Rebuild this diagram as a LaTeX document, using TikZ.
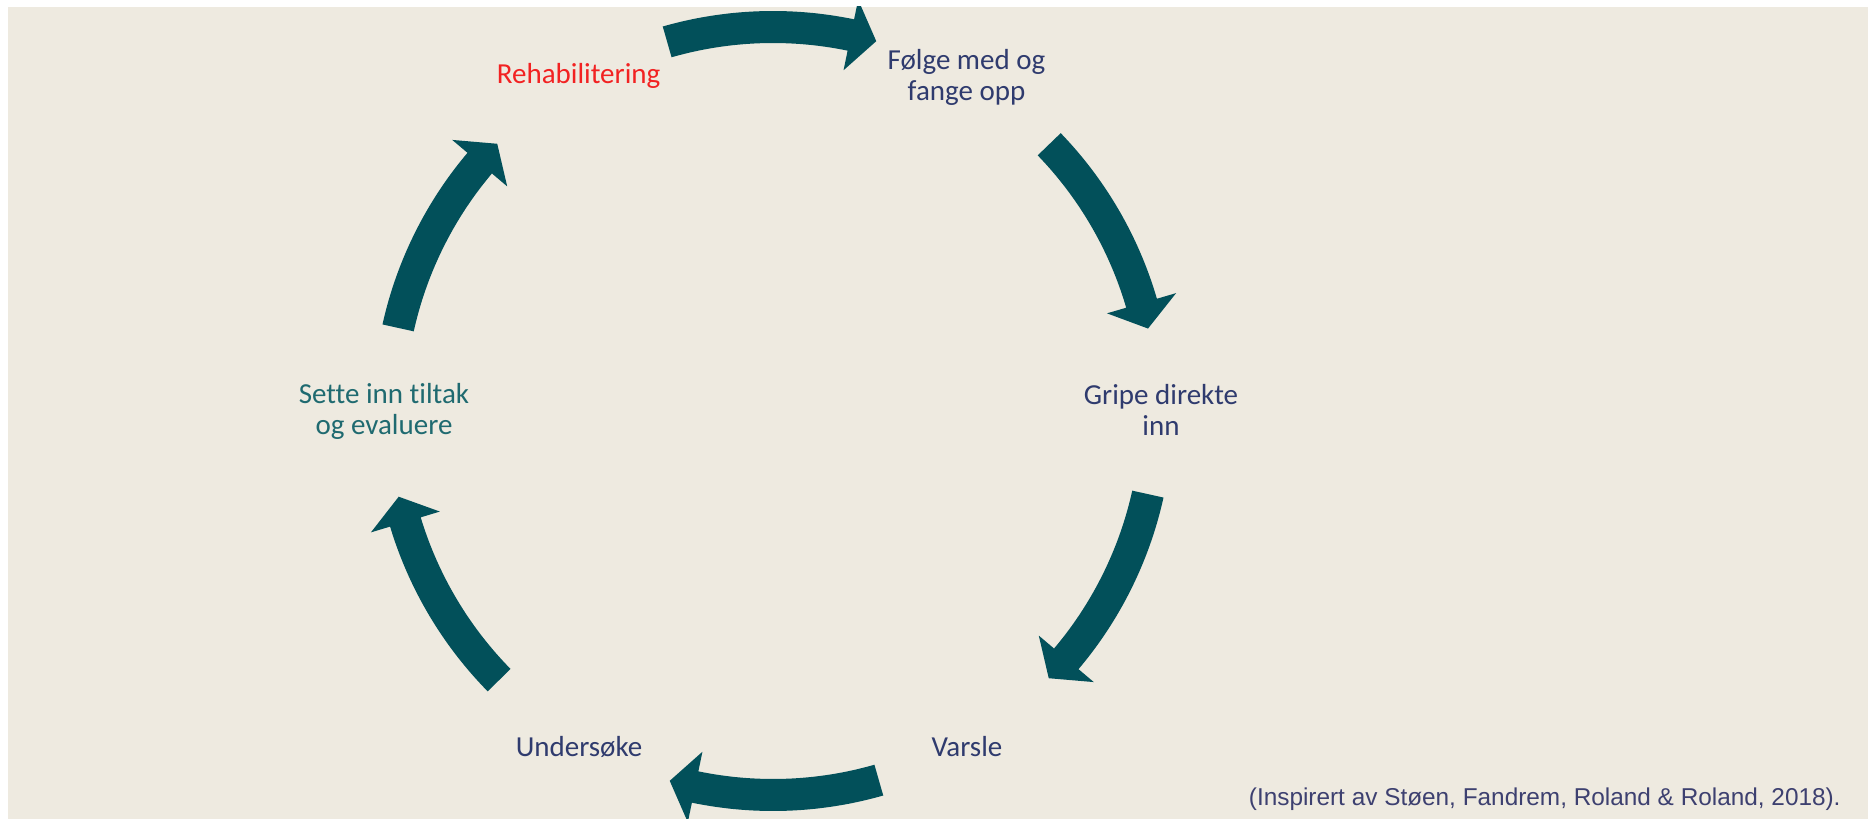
\documentclass[tikz,border=0pt]{standalone}
\usepackage{fontspec}
\setmainfont{Carlito}[Ligatures={NoCommon}]
\newfontfamily\citefont{Liberation Sans}
\definecolor{bgbeige}{HTML}{EEEAE0}
\definecolor{arrowteal}{HTML}{02505A}
\definecolor{navytext}{HTML}{2F3B6E}
\definecolor{tealtext}{HTML}{1F6A70}
\definecolor{redtext}{HTML}{F22222}
\definecolor{citetext}{HTML}{3D4070}
\begin{document}
\begin{tikzpicture}[x=0.5pt,y=0.5pt,
  label/.style={font=\fontsize{14.5pt}{15.5pt}\selectfont, align=center, anchor=base, inner sep=0pt},
  arrowfill/.style={fill=arrowteal}]
% bounding box: 1869 x 819 px, origin at circle centre (px 773, 411)
\useasboundingbox (-773,-408) rectangle (1096,411);
\fill[white] (-773,-408) rectangle (1096,411);
\fill[bgbeige] (-765,-408) rectangle (1095,404);
\begin{scope}
\clip (-765,-408) rectangle (1095,404);
\foreach \c in {90,28,-28.5,-90,-151.5,151.5} {
  \pgfmathsetmacro\aA{\c+16}
  \pgfmathsetmacro\aB{\c-11.7}
  \pgfmathsetmacro\aC{\c-15.6}
  \fill[arrowfill] plot[domain=\aA:\aB,samples=40] (\x:400) -- (\aB:420) -- (\aC:384)
     -- (\aB:348) -- plot[domain=\aB:\aA,samples=40] (\x:368) -- cycle;
}
\end{scope}
% anchor=base of a multi-line node is the baseline of its last line
\node[label, text=redtext] (rehab) at (-194.4,327) {Rehabilitering};
\node[label, text=navytext] (folge) at (193.5,310.5) {Følge med og\\fange opp};
\node[label, text=navytext] (gripe) at (388,-24.5) {Gripe direkte\\inn};
\node[label, text=navytext] (varsle) at (194,-345.5) {Varsle};
\node[label, text=navytext] (under) at (-194,-345.5) {Undersøke};
\node[label, text=tealtext] (sette) at (-389,-24) {Sette inn tiltak\\og evaluere};
\node[inner sep=0pt, anchor=base east, text=citetext, font=\citefont\fontsize{12.18pt}{14pt}\selectfont] (cite) at (1068,-394) {(Inspirert av Støen, Fandrem, Roland \& Roland, 2018).};
\end{tikzpicture}
\end{document}
